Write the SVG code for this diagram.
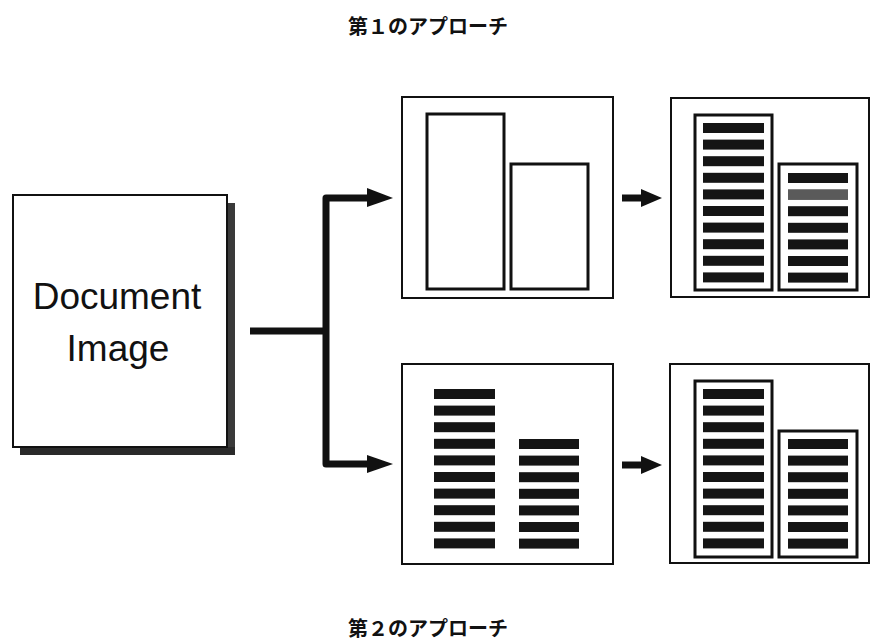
<svg xmlns="http://www.w3.org/2000/svg" width="872" height="642" viewBox="0 0 872 642">
<style>
.title{font-family:"Noto Sans CJK JP","Noto Sans CJK SC",sans-serif;font-size:20px;font-weight:bold;fill:#111;text-anchor:middle}
.doc{font-family:"Liberation Sans",Arial,sans-serif;font-size:37px;fill:#111;text-anchor:middle}
.frame{fill:#fff;stroke:#111;stroke-width:2}
.block{fill:none;stroke:#111;stroke-width:3}
.bar{fill:#151515}
.hl{fill:#5a5a5a}
.conn{fill:none;stroke:#111;stroke-width:7;stroke-linejoin:round}
.head{fill:#111}
</style>
<defs>
<g id="col10">
<rect class="bar" x="0" y="0" width="61" height="10"/>
<rect class="bar" x="0" y="16.6" width="61" height="10"/>
<rect class="bar" x="0" y="33.2" width="61" height="10"/>
<rect class="bar" x="0" y="49.8" width="61" height="10"/>
<rect class="bar" x="0" y="66.4" width="61" height="10"/>
<rect class="bar" x="0" y="83" width="61" height="10"/>
<rect class="bar" x="0" y="99.6" width="61" height="10"/>
<rect class="bar" x="0" y="116.2" width="61" height="10"/>
<rect class="bar" x="0" y="132.8" width="61" height="10"/>
<rect class="bar" x="0" y="149.4" width="61" height="10"/>
</g>
<g id="col7">
<rect class="bar" x="0" y="0" width="60" height="10"/>
<rect class="bar" x="0" y="16.6" width="60" height="10"/>
<rect class="bar" x="0" y="33.2" width="60" height="10"/>
<rect class="bar" x="0" y="49.8" width="60" height="10"/>
<rect class="bar" x="0" y="66.4" width="60" height="10"/>
<rect class="bar" x="0" y="83" width="60" height="10"/>
<rect class="bar" x="0" y="99.6" width="60" height="10"/>
</g>
</defs>

<text class="title" x="428" y="34">第１のアプローチ</text>
<text class="title" x="428" y="636">第２のアプローチ</text>

<g id="document">
<rect x="227" y="203" width="8" height="252" fill="#3a3a3a"/>
<rect x="20" y="447" width="215" height="8" fill="#2a2a2a"/>
<rect class="frame" x="13" y="195" width="214" height="252"/>
<text class="doc" x="117" y="309">Document</text>
<text class="doc" x="118" y="361">Image</text>
</g>

<g id="connectors">
<path class="conn" d="M250 331 H326"/>
<path class="conn" d="M370 198 H326 V464 H370"/>
<polygon class="head" points="367,188 393,198 367,207"/>
<polygon class="head" points="367,455 393,464 367,473"/>
<path class="conn" d="M622 198 H644" stroke-linejoin="miter"/>
<polygon class="head" points="641,189 662,198 641,207"/>
<path class="conn" d="M622 465 H644"/>
<polygon class="head" points="641,456 662,465 641,474"/>
</g>

<g id="approach1-segment">
<rect class="frame" x="402" y="97" width="211" height="201"/>
<rect class="block" x="427" y="114" width="77" height="175"/>
<rect class="block" x="511" y="164" width="77" height="125"/>
</g>

<g id="approach1-result">
<rect class="frame" x="671" y="98" width="198" height="199"/>
<rect class="block" x="695" y="115" width="77" height="175"/>
<rect class="block" x="779" y="164" width="78" height="126"/>
<use href="#col10" x="703" y="123"/>
<use href="#col7" x="788" y="173"/>
<rect class="hl" x="788" y="189.6" width="60" height="10"/>
</g>

<g id="approach2-lines">
<rect class="frame" x="402" y="364" width="211" height="200"/>
<use href="#col10" x="434" y="389"/>
<use href="#col7" x="519" y="439"/>
</g>

<g id="approach2-result">
<rect class="frame" x="670" y="364" width="199" height="199"/>
<rect class="block" x="695" y="381" width="77" height="176"/>
<rect class="block" x="779" y="431" width="78" height="126"/>
<use href="#col10" x="703" y="389"/>
<use href="#col7" x="788" y="439"/>
</g>
</svg>
